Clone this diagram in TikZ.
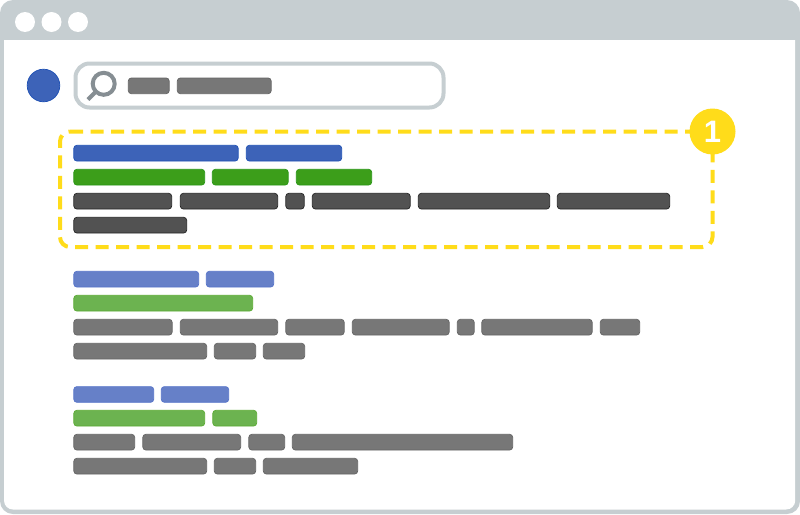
\documentclass[tikz,border=0pt]{standalone}
\usepackage{fontspec}
\setmainfont{Liberation Sans}
\definecolor{frame}{HTML}{C6CED1}
\definecolor{gold}{HTML}{FFDC1A}
\definecolor{lens}{HTML}{868E93}
\definecolor{avatarfill}{RGB}{61,99,184}
\definecolor{avatarline}{RGB}{30,80,180}
\tikzset{
  bar/.style={rounded corners=3pt,line width=0.7pt},
  blueA/.style={bar,fill=avatarfill,draw=avatarline},
  greenA/.style={bar,fill={rgb,255:red,60;green,158;blue,26},draw={rgb,255:red,40;green,150;blue,20}},
  darkA/.style={bar,fill={rgb,255:red,82;green,82;blue,82},draw={rgb,255:red,35;green,35;blue,35}},
  blueB/.style={bar,fill={rgb,255:red,102;green,128;blue,200},draw={rgb,255:red,85;green,115;blue,200}},
  greenB/.style={bar,fill={rgb,255:red,108;green,179;blue,80},draw={rgb,255:red,90;green,170;blue,50}},
  greyB/.style={bar,fill={rgb,255:red,119;green,119;blue,119},draw={rgb,255:red,100;green,100;blue,100}},
  dots/.style={circle,fill=white,draw=none,minimum size=20pt,inner sep=0pt},
}
% \bars{style}{top}{x1/x2,...}
\newcommand{\bars}[3]{\foreach \xa/\xb in {#3}{\path[#1] (\xa+0.3,#2+0.3) rectangle (\xb-0.3,#2+16);}}
\begin{document}
\begin{tikzpicture}[x=1pt,y=-1pt]
\useasboundingbox (0,0) rectangle (800,514);
\fill[white] (0,0) rectangle (800,514);
% window frame
\path[fill=frame,rounded corners=13pt] (0,0) rectangle (800,514);
\path[fill=white] (4,40) -- (795.2,40) [rounded corners=9pt] -- (795.2,509.5) -- (4,509.5) [sharp corners] -- cycle;
\node[dots] (d1) at (25,22) {};
\node[dots] (d2) at (51.5,22) {};
\node[dots] (d3) at (78,22) {};
% avatar
\path[fill=avatarfill,draw=avatarline,line width=0.7pt] (43.5,85.5) circle (16.3);
% search box
\draw[frame,line width=4pt,rounded corners=14pt] (75.5,63.5) rectangle (443.5,107.5);
\draw[lens,line width=4pt] (103.7,83.8) circle (11);
\draw[lens,line width=4.2pt] (95.5,92) -- (88,99.5);
\bars{greyB}{77.7}{128/169.5,177/271.5}
% highlighted result outline
\draw[gold,line width=4pt,dash pattern=on 13pt off 7.5pt,rounded corners=10pt] (60,131.5) -- (712.5,131.5) -- (712.5,247) -- (60,247) -- cycle;
\bars{blueA}{145}{73.5/238.5,246/342}
\bars{greenA}{169}{73.5/205,212/288.5,296/372}
\bars{darkA}{193}{73.5/172,180/278,285.5/304.5,312/410.5,418/550,557/670}
\bars{darkA}{217}{73.5/187}
% result 2
\bars{blueB}{271}{73.5/199,206/274}
\bars{greenB}{295}{73.5/253}
\bars{greyB}{319}{73.5/172.5,180/278,285.5/344.5,352/449.5,457/474.5,481.5/592.5,600/640}
\bars{greyB}{343}{73.5/207,214/256,263/305}
% result 3
\bars{blueB}{386.3}{73.5/154,161/229}
\bars{greenB}{410}{73.5/205,212.5/257}
\bars{greyB}{434}{73.5/135,142.5/241,248.5/285,292/513}
\bars{greyB}{458}{73.5/207,214/256,263/358}
% badge
\node[circle,fill=gold,minimum size=46pt,inner sep=0pt,text=white,font=\fontsize{31}{31}\selectfont\bfseries] (badge) at (712.5,131.5) {1};
\end{tikzpicture}
\end{document}
